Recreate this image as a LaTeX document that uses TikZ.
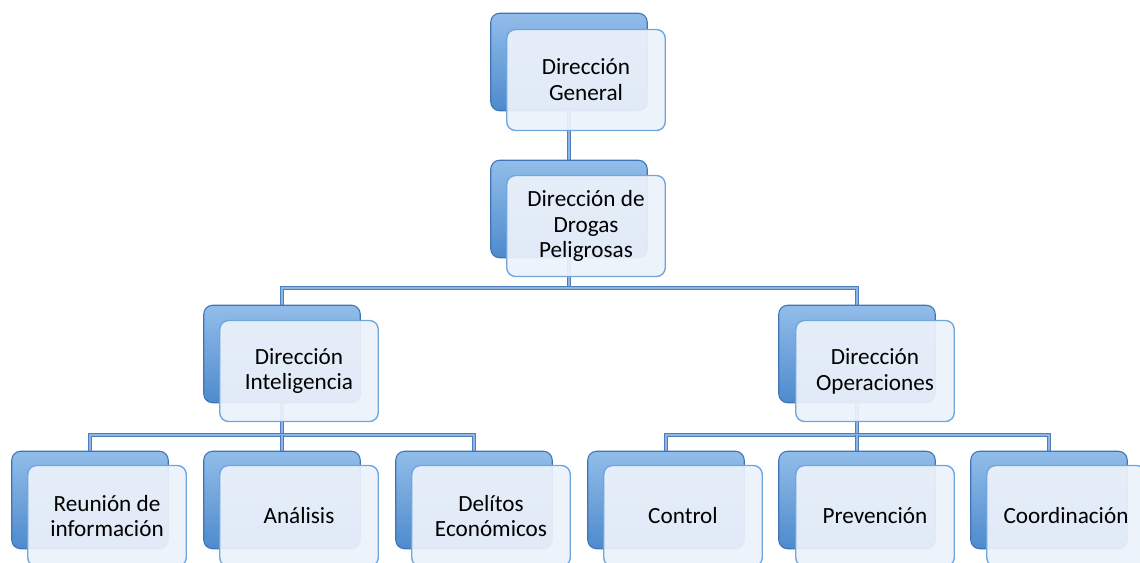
\documentclass[tikz,border=0pt]{standalone}
\usepackage{fontspec}
\setmainfont{Carlito}
\usepackage{tikz}
\usetikzlibrary{positioning, calc}
\usetikzlibrary{backgrounds}

\definecolor{backtop}{HTML}{92BDEA}
\definecolor{backbot}{HTML}{4E8ACD}
\definecolor{backline}{HTML}{3F74B5}
\definecolor{frontfill}{HTML}{ECF2FA}
\definecolor{frontline}{HTML}{6FA6DC}
\definecolor{connline}{HTML}{4C7FBE}
\definecolor{conninner}{HTML}{8FB6E3}

\tikzset{
  backbox/.style={rectangle, rounded corners=5pt, minimum width=3.13cm, minimum height=1.95cm,
    inner sep=0pt, top color=backtop, bottom color=backbot, draw=backline, line width=0.6pt},
  frontbox/.style={rectangle, rounded corners=5pt, minimum width=3.17cm, minimum height=2.02cm,
    inner sep=0pt, fill=frontfill, fill opacity=0.93, text opacity=1, draw=frontline, line width=0.8pt,
    align=center, font=\fontsize{13.2}{14.7}\selectfont},
  conn/.style={draw=connline, line width=0.6pt, double=conninner, double distance=1.1pt}
}

\begin{document}
\begin{tikzpicture}[x=0.02cm, y=-0.02cm]
    \useasboundingbox (0,0) rectangle (1140,562);
    \clip (0,0) rectangle (1140,562);

    % top
    \node[backbox] (dgB) at (569,62) {};
    \node[frontbox] (dg) at (586,80) {Dirección\\General};
    \node[backbox] (ddpB) at (569,209) {};
    \node[frontbox] (ddp) at (586,226) {Dirección de\\Drogas\\Peligrosas};

    % second level
    \node[backbox] (diB) at (282,354) {};
    \node[frontbox] (di) at (299,371) {Dirección\\Inteligencia};
    \node[backbox] (doB) at (857,354) {};
    \node[frontbox] (do) at (875,371) {Dirección\\Operaciones};

    % bottom level
    \node[backbox] (riB) at (90,500) {};
    \node[frontbox] (ri) at (107,516) {Reunión de\\información};
    \node[backbox] (anB) at (282,500) {};
    \node[frontbox] (an) at (299,516) {Análisis};
    \node[backbox] (deB) at (474,500) {};
    \node[frontbox] (de) at (491,516) {Delítos\\Económicos};
    \node[backbox] (coB) at (666,500) {};
    \node[frontbox] (co) at (683,516) {Control};
    \node[backbox] (prB) at (857,500) {};
    \node[frontbox] (pr) at (875,516) {Prevención};
    \node[backbox] (cdB) at (1049,500) {};
    \node[frontbox] (cd) at (1066,516) {Coordinación};

    \coordinate (busA) at (569,288);
    \coordinate (busB) at (282,435);
    \coordinate (busC) at (857,435);

    \begin{scope}[on background layer]
        \draw[conn] (dgB.south) -- (ddpB.north);
        \draw[conn] (ddpB.south) -- (busA);
        \draw[conn] (diB.north) |- (busA) -| (doB.north);
        \draw[conn] (diB.south) -- (busB);
        \draw[conn] (riB.north) |- (busB) -| (deB.north);
        \draw[conn] (anB.north) -- (busB);
        \draw[conn] (doB.south) -- (busC);
        \draw[conn] (coB.north) |- (busC) -| (cdB.north);
        \draw[conn] (prB.north) -- (busC);
    \end{scope}
\end{tikzpicture}
\end{document}
